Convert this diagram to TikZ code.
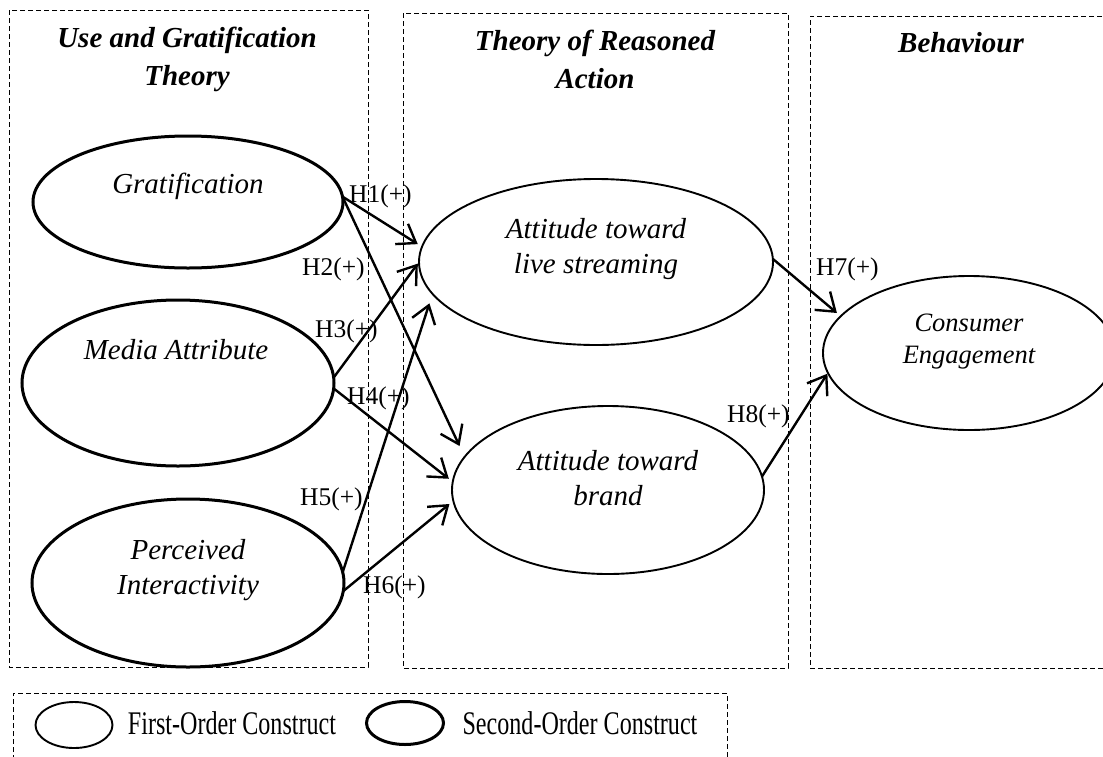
\documentclass[tikz,border=0pt]{standalone}
\usepackage{graphicx}
\usepackage{fontspec}
\setmainfont{Liberation Serif}
\usetikzlibrary{arrows.meta,shapes.geometric}

\begin{document}
\begin{tikzpicture}[x=1pt,y=-1pt,
  box/.style={line width=1pt,dash pattern=on 5pt off 3pt},
  first/.style={ellipse,draw,line width=1.9pt,fill=white,inner sep=0pt,outer sep=0pt},
  second/.style={ellipse,draw,line width=3pt,fill=white,inner sep=0pt,outer sep=0pt},
  head/.style={font=\fontsize{29}{38}\selectfont\bfseries\itshape,align=center,inner sep=0pt},
  ctext/.style={font=\fontsize{29}{35}\selectfont\itshape,align=center,inner sep=0pt},
  hyp/.style={font=\fontsize{25.5}{30}\selectfont,inner sep=0pt,anchor=base west},
  keytext/.style={font=\fontsize{33}{36}\selectfont,inner sep=0pt,anchor=base},
  link/.style={line width=2.4pt,-{Straight Barb[length=17pt,width=24pt]},shorten >=5pt}]
\useasboundingbox (0,0) rectangle (1103,756);

% theory boxes
\draw[box] (9,10) rectangle (368,667);
\draw[box] (403,13) rectangle (788,668);
\draw[box] (1110,16) -| (810,668) -- (1110,668);
\node[head,anchor=north] (ugt) at (187,27) {Use and Gratification\\Theory};
\node[head,anchor=north] (tra) at (595,30) {Theory of Reasoned\\Action};
\node[head,anchor=base] (beh) at (961,52) {Behaviour};

% constructs
\node[second,minimum width=310pt,minimum height=132pt] (grat) at (188,202) {};
\node[second,minimum width=312pt,minimum height=166pt] (media) at (178,383) {};
\node[second,minimum width=312pt,minimum height=168pt] (perc) at (188,583) {};
\node[first,minimum width=354pt,minimum height=166pt] (live) at (596,262) {};
\node[first,minimum width=312pt,minimum height=168pt] (brand) at (608,490) {};
\node[first,minimum width=292pt,minimum height=154pt] (cons) at (969,353) {};

\node[ctext] (grat-t) at (188,186) {Gratification};
\node[ctext] (media-t) at (176,350) {Media Attribute};
\node[ctext] (perc-t) at (188,570) {Perceived\\Interactivity};
\node[ctext] (live-t) at (596,249) {Attitude toward\\live streaming};
\node[ctext] (brand-t) at (608,478) {Attitude toward\\brand};
\node[ctext,font=\fontsize{26.5}{32}\selectfont\itshape] (cons-t) at (969,342) {Consumer\\Engagement};

% hypotheses
\draw[link] (grat.2) -- (live.175);
\draw[link,shorten >=12pt] (grat.2) -- (brand.167);
\draw[link,shorten >=2pt] (media.2) -- (live.180);
\draw[link] (media.-2) -- (brand.177);
\draw[link,shorten >=10pt] (perc.4) -- (live.191);
\draw[link] (perc.-3) -- (brand.184);
\draw[link] (live.1) -- (cons.164);
\draw[link,shorten >=1pt] (brand.5) -- (cons.188);

\node[hyp] (h1) at (349,202) {H1(+)};
\node[hyp] (h2) at (302,275) {H2(+)};
\node[hyp] (h3) at (315,337) {H3(+)};
\node[hyp] (h4) at (347,404) {H4(+)};
\node[hyp] (h5) at (300,505) {H5(+)};
\node[hyp] (h6) at (363,593) {H6(+)};
\node[hyp] (h7) at (816,275) {H7(+)};
\node[hyp] (h8) at (727,422) {H8(+)};

% legend
\draw[box] (13,760) |- (727,693) -- (727,760);
\node[first,minimum width=77pt,minimum height=46pt] (key1) at (74,725) {};
\node[keytext] (key1-t) at (232,734) {\scalebox{0.73}[1]{First-Order Construct}};
\node[second,minimum width=77pt,minimum height=43pt] (key2) at (405,723) {};
\node[keytext] (key2-t) at (580,734) {\scalebox{0.73}[1]{Second-Order Construct}};
\end{tikzpicture}
\end{document}
